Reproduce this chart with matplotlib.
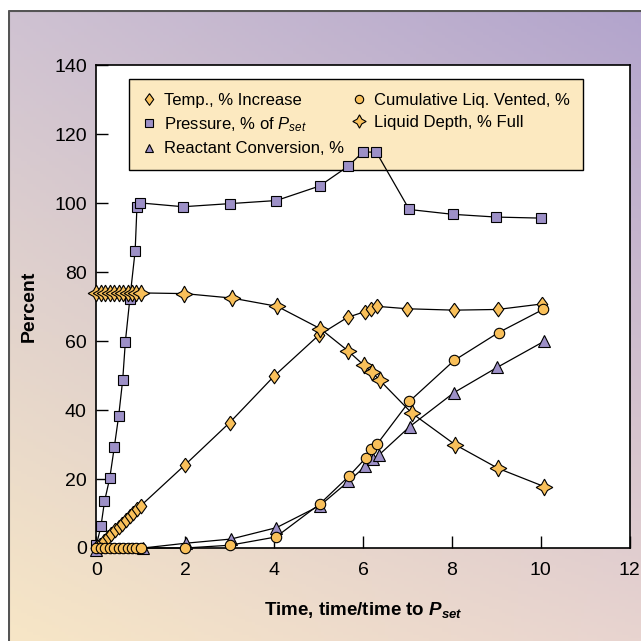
import numpy as np
import matplotlib
matplotlib.use("Agg")
import matplotlib.pyplot as plt

FONT = ['Liberation Sans', 'DejaVu Sans']
plt.rcParams['font.family'] = FONT
plt.rcParams['mathtext.fontset'] = 'custom'
plt.rcParams['mathtext.rm'] = 'Liberation Sans'
plt.rcParams['mathtext.it'] = 'Liberation Sans:italic'
plt.rcParams['mathtext.bf'] = 'Liberation Sans:bold'
plt.rcParams['mathtext.bfit'] = 'Liberation Sans:bold:italic'

# ---------------- data ----------------
temp_x = [0, 0.08, 0.17, 0.25, 0.33, 0.42, 0.5, 0.58, 0.67, 0.75, 0.83, 0.92, 1.0,
          2, 3, 4, 5, 5.65, 6.05, 6.17, 6.32, 7, 8.05, 9.03, 10.03]
temp_y = [0, 1.0, 2.1, 3.1, 4.1, 5.1, 6.1, 7.1, 8.2, 9.2, 10.2, 11.2, 12.3,
          24.2, 36.4, 49.9, 61.7, 66.9, 68.6, 69.2, 70.1, 69.4, 69.0, 69.2, 70.8]

pres_x = [0, 0.1, 0.18, 0.3, 0.4, 0.5, 0.59, 0.65, 0.75, 0.87, 0.91, 0.99,
          1.95, 3.0, 4.05, 5.02, 5.66, 6.0, 6.3, 7.04, 8.02, 9.0, 10.0]
pres_y = [1, 6.3, 13.5, 20.4, 29.2, 38.4, 48.8, 59.9, 72.2, 86.2, 98.8, 100.1,
          99.0, 99.9, 100.8, 105.0, 110.7, 114.9, 114.8, 98.2, 96.8, 96.0, 95.7]

reac_x = [0, 1.05, 2.02, 3.03, 4.05, 5.03, 5.67, 6.05, 6.22, 6.35, 7.05, 8.05, 9.02, 10.08]
reac_y = [-0.6, 0, 1.4, 2.6, 5.9, 12.3, 19.3, 23.7, 25.9, 26.9, 35.2, 45.1, 52.4, 60.0]

vent_x = [0, 0.1, 0.2, 0.3, 0.4, 0.5, 0.6, 0.7, 0.8, 0.9, 1.0,
          2.0, 3.0, 4.04, 5.02, 5.68, 6.06, 6.17, 6.32, 7.04, 8.05, 9.05, 10.05]
vent_y = [0, 0, 0, 0, 0, 0, 0, 0, 0, 0, 0,
          0, 0.8, 3.2, 12.7, 20.8, 26.1, 28.8, 30.2, 42.5, 54.4, 62.5, 69.2]

depth_x = [0, 0.1, 0.2, 0.3, 0.4, 0.5, 0.6, 0.7, 0.8, 0.9, 1.0,
           1.98, 3.05, 4.07, 5.04, 5.66, 6.02, 6.2, 6.38, 7.1, 8.07, 9.04, 10.08]
depth_y = [74, 74, 74, 74, 74, 74, 74, 74, 74, 74, 74,
           73.8, 72.5, 70.1, 63.6, 57.2, 53.0, 51.0, 48.6, 39.1, 30.0, 23.1, 17.8]

labels = ["Temp., % Increase", "Pressure, % of $P_{set}$", "Reactant Conversion, %",
          "Cumulative Liq. Vented, %", "Liquid Depth, % Full"]

xticks = [0, 2, 4, 6, 8, 10, 12]
yticks = [0, 20, 40, 60, 80, 100, 120, 140]

# ---------------- style ----------------
ORANGE = "#F9C05A"
PURPLE = "#9D90C7"
W, H = 641, 641
fig = plt.figure(figsize=(W / 100, H / 100), dpi=100, facecolor="white")

# gradient background panel
bx0, by1 = 8 / W, 1 - 10 / H
bg = fig.add_axes([bx0, 0, 1 - bx0, by1])
tl = np.array([207, 194, 210]) / 255
tr = np.array([178, 164, 204]) / 255
bl = np.array([247, 230, 198]) / 255
br = np.array([232, 212, 208]) / 255
n = 200
u = np.linspace(0, 1, n)[None, :, None]
v = np.linspace(0, 1, n)[:, None, None]
img = (1 - v) * ((1 - u) * tl + u * tr) + v * ((1 - u) * bl + u * br)
bg.imshow(img, aspect="auto", extent=[0, 1, 0, 1], origin="upper")
bg.set_xlim(0, 1)
bg.set_ylim(0, 1)
bg.axis("off")
bg.plot([0.001, 0.001, 1], [0, 0.999, 0.999], color="#555555", lw=1.5)

ax = fig.add_axes([96.5 / W, 1 - 548 / H, (629.6 - 96.5) / W, (548 - 65.4) / H])
ax.set_facecolor("white")

DIAMOND = [(0, 1), (0.72, 0), (0, -1), (-0.72, 0), (0, 1)]

lw = 0.9
mk = dict(markeredgecolor="black", markeredgewidth=0.8, clip_on=False)
ax.plot(pres_x, pres_y, color="black", lw=lw, marker="s", ms=7,
        markerfacecolor=PURPLE, label=labels[1], zorder=3, **mk)
ax.plot(temp_x, temp_y, color="black", lw=lw, marker=DIAMOND, ms=10.5,
        markerfacecolor=ORANGE, label=labels[0], zorder=3, **mk)
ax.plot(reac_x, reac_y, color="black", lw=lw, marker="^", ms=8,
        markerfacecolor=PURPLE, label=labels[2], zorder=3, **mk)
ax.plot(vent_x, vent_y, color="black", lw=lw, marker="o", ms=7.5,
        markerfacecolor=ORANGE, label=labels[3], zorder=3, **mk)
ax.plot(depth_x, depth_y, color="black", lw=lw, marker=(4, 1, 0), ms=12,
        markerfacecolor=ORANGE, label=labels[4], zorder=3, **mk)

ax.set_xlim(0, 12)
ax.set_ylim(0, 140)
ax.set_xticks(xticks)
ax.set_yticks(yticks)
ax.tick_params(direction="in", length=8.5, width=1, labelsize=14)
ax.tick_params(axis="x", pad=10)
ax.tick_params(axis="y", pad=7)
for s in ax.spines.values():
    s.set_linewidth(1.2)

ax.set_ylabel("Percent", fontsize=14, fontweight="bold", labelpad=12)
ax.set_xlabel(r"Time, time/time to $\mathbfit{P_{set}}$", fontsize=13.5,
              fontweight="bold", labelpad=15)

handles, labs = ax.get_legend_handles_labels()
# order: Temp, Pressure, Reactant | Cumulative, Depth
h2 = [handles[1], handles[0], handles[2], handles[3], handles[4]]
l2 = [labs[1], labs[0], labs[2], labs[3], labs[4]]
leg = ax.legend(h2, l2, ncol=2, loc="upper left",
                bbox_to_anchor=(0.061, 0.5, 0.852, 0.471), mode="expand",
                borderaxespad=0, fontsize=12, frameon=True, fancybox=False,
                edgecolor="black", facecolor="#FCE9C0", framealpha=1,
                handlelength=0.8, handletextpad=0.5, markerscale=0.8,
                labelspacing=0.45, borderpad=0.8, columnspacing=1.0)
for line in leg.get_lines():
    line.set_linestyle("none")
leg.get_frame().set_linewidth(1.0)
leg.set_zorder(2)

fig.savefig("out.png", dpi=100, facecolor="white")
